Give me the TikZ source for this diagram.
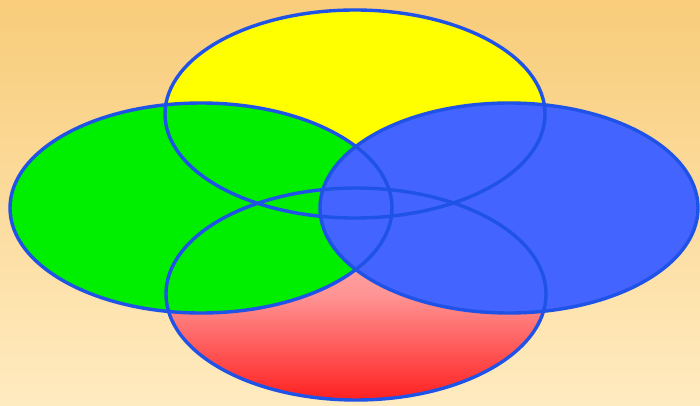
\documentclass[tikz,border=0pt]{standalone}
\usepackage{tikz}

\definecolor{ringblue}{HTML}{1F52E6}
\definecolor{petalyellow}{HTML}{FFFF00}
\definecolor{petalgreen}{HTML}{00EE00}
\definecolor{petalblue}{HTML}{4464FF}
\definecolor{redlow}{HTML}{FF2020}
\definecolor{redmid}{HTML}{FF9494}
\definecolor{redhigh}{HTML}{FFC4C4}
\definecolor{bgtop}{HTML}{F8CC7A}
\definecolor{bgbottom}{HTML}{FFEBC0}

\pgfdeclareverticalshading{redfade}{100bp}{color(0bp)=(redlow); color(25bp)=(redlow); color(50bp)=(redmid); color(75bp)=(redhigh); color(100bp)=(redhigh)}
\pgfdeclareverticalshading{bgfade}{100bp}{color(0bp)=(bgbottom); color(25bp)=(bgbottom); color(75bp)=(bgtop); color(100bp)=(bgtop)}

\begin{document}
\begin{tikzpicture}[x=1pt, y=1pt,
    ring/.style={draw=ringblue, line width=3.4pt}]
    % background
    \shade[shading=bgfade] (0,0) rectangle (700,405);
    \useasboundingbox (0,0) rectangle (700,405);
    % fills
    \fill[petalyellow] (355,291) ellipse [x radius=190pt, y radius=104pt];
    \shade[shading=redfade] (356,111) ellipse [x radius=190pt, y radius=106pt];
    \fill[petalgreen] (201,197) ellipse [x radius=191pt, y radius=105pt];
    \fill[petalblue] (509,197) ellipse [x radius=189pt, y radius=105pt];
    % outlines
    \draw[ring] (355,291) ellipse [x radius=190pt, y radius=104pt];
    \draw[ring] (356,111) ellipse [x radius=190pt, y radius=106pt];
    \draw[ring] (201,197) ellipse [x radius=191pt, y radius=105pt];
    \draw[ring] (509,197) ellipse [x radius=189pt, y radius=105pt];
\end{tikzpicture}
\end{document}
